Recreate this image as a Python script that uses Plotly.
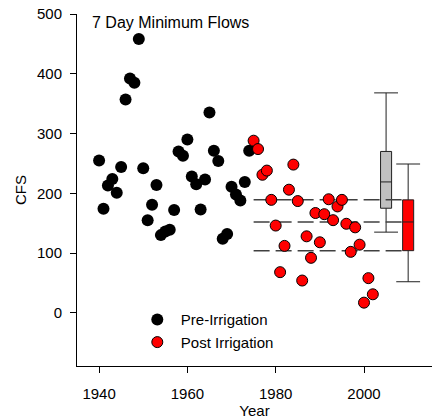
import plotly.graph_objects as go

# ---- data ----
pre_years = list(range(1940, 1975))
pre_cfs = [255, 174, 213, 224, 201, 244, 357, 392, 385, 458, 242, 155, 181, 214, 130,
           136, 139, 172, 270, 263, 290, 228, 215, 173, 223, 335, 271, 254, 124, 132,
           211, 198, 188, 219, 271]
post_years = list(range(1975, 2003))
post_cfs = [288, 274, 231, 238, 189, 146, 68, 112, 206, 248, 187, 54, 128, 92, 167,
            118, 165, 190, 155, 178, 189, 149, 102, 143, 114, 17, 58, 31]

box_names = ["Pre", "Post"]
box_pos = [2005, 2010]
box_q1 = [175, 104]
box_median = [219, 152]
box_q3 = [270, 189]
box_lower = [135, 52]
box_upper = [368, 249]
box_fill = ["#C0C0C0", "#FF0000"]

x_ticks = [1940, 1960, 1980, 2000]
y_ticks = [0, 100, 200, 300, 400, 500]

FONT = "Arial, Liberation Sans, sans-serif"
BOX_W = 2.5
CAP_HALF = 2.7

fig = go.Figure()

# boxes
for i in range(2):
    fig.add_trace(go.Box(
        x=[box_pos[i]], q1=[box_q1[i]], median=[box_median[i]], q3=[box_q3[i]],
        lowerfence=[box_lower[i]], upperfence=[box_upper[i]],
        width=BOX_W, whiskerwidth=0, fillcolor=box_fill[i],
        line=dict(color="#202020", width=1), boxpoints=False,
        showlegend=False, hoverinfo="skip"))
    cx = box_pos[i]
    fig.add_trace(go.Scatter(
        x=[cx - CAP_HALF, cx + CAP_HALF, None, cx - CAP_HALF, cx + CAP_HALF],
        y=[box_upper[i], box_upper[i], None, box_lower[i], box_lower[i]],
        mode="lines", line=dict(color="#202020", width=1),
        showlegend=False, hoverinfo="skip"))

# dashed reference lines at post-irrigation quartiles
x_end = box_pos[1] - BOX_W / 2
for yv in [box_q3[1], box_median[1], box_q1[1]]:
    fig.add_trace(go.Scatter(
        x=[post_years[0], x_end], y=[yv, yv], mode="lines",
        line=dict(color="#404040", width=1.5, dash="16px,6px"),
        showlegend=False, hoverinfo="skip"))

fig.add_trace(go.Scatter(
    x=pre_years, y=pre_cfs, mode="markers", name="Pre-Irrigation",
    marker=dict(color="#000000", size=12, line=dict(width=0))))
fig.add_trace(go.Scatter(
    x=post_years, y=post_cfs, mode="markers", name="Post Irrigation",
    marker=dict(color="#FF0000", size=11, line=dict(color="#000000", width=1))))

fig.add_annotation(text="7 Day Minimum Flows", xref="paper", yref="paper",
                   x=0.038, y=0.977, xanchor="left", yanchor="middle",
                   showarrow=False, font=dict(family=FONT, size=16, color="#000"))

axis_common = dict(showgrid=False, zeroline=False, showline=True, linecolor="#000",
                   linewidth=1, ticks="outside", ticklen=6, tickcolor="#000",
                   tickfont=dict(family=FONT, size=15, color="#000"))

fig.update_layout(
    width=432, height=420,
    margin=dict(l=77, r=0, t=14, b=54),
    plot_bgcolor="white", paper_bgcolor="white",
    font=dict(family=FONT, size=15, color="#000"),
    xaxis=dict(range=[1935, 2015.4], tickvals=x_ticks, ticklabelstandoff=8,
               title=dict(text="Year", font=dict(family=FONT, size=15), standoff=0),
               **axis_common),
    yaxis=dict(range=[-89, 500], tickvals=y_ticks, ticklabelstandoff=5,
               title=dict(text="CFS", font=dict(family=FONT, size=15), standoff=6),
               **axis_common),
    legend=dict(x=0.16, y=0.178, xanchor="left", yanchor="top",
                bgcolor="rgba(0,0,0,0)", itemwidth=37,
                font=dict(family=FONT, size=15, color="#000"),
                tracegroupgap=0),
)

fig.write_html("out.html")
